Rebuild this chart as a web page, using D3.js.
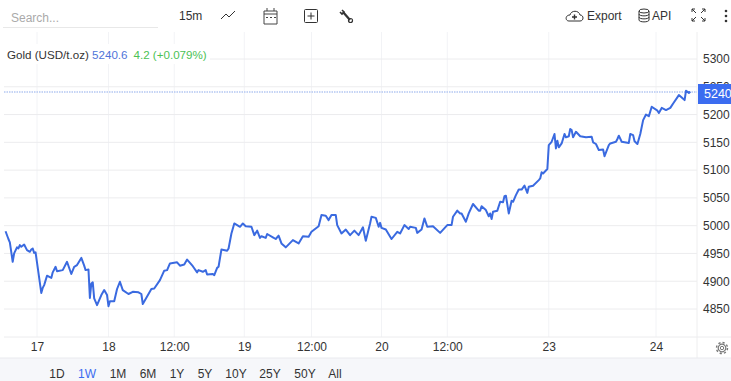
<!DOCTYPE html>
<html>
<head>
<meta charset="utf-8">
<script src="https://cdn.jsdelivr.net/npm/d3@7"></script>
<style>
  html, body { margin: 0; padding: 0; background: #fff; overflow: hidden; }
  text { font-family: "Liberation Sans", Arial, sans-serif; }
  .axis path, .axis line { display: none; }
</style>
</head>
<body>
<div id="chart-area"></div>
<script>
// 15 minute bars, numbered from the first bar of the chart (closed hours left out)
const bars = [0,2,3,5,6,8,9,10,11,13,15,17,18,19,20,21,25,26,27,29,32,33,35,36,40,43,46,48,50,53,55,56,58,59,60,61,62,64,67,69,71,72,73,76,78,80,82,86,89,93,95,96,100,102,104,108,111,113,115,120,122,125,127,131,134,135,138,140,141,145,146,148,149,151,155,156,158,160,164,166,168,172,174,176,178,179,182,183,187,189,191,193,196,201,205,208,212,214,219,221,224,226,228,231,232,235,238,241,244,247,250,252,255,256,259,261,262,263,266,270,274,276,279,282,283,287,288,291,293,295,299,304,309,312,313,316,318,319,322,324,327,331,332,333,336,338,339,340,341,344,346,348,349,350,352,354,355,357,359,361,363,365,366,369,373,374,375,376,379,380,382,384,385,386,387,389,391,392,394,395,396,397,399,402,406,410,411,413,415,418,419,422,423,427,428,429,431,436,437,439,440,442,444,446,448,450,452,456,457,459,462,465,467,471,475,476,478,479];
const prices = [4990,4976,4970,4935,4950,4961,4959,4965,4962,4966,4956,4953,4957,4959,4951,4952,4879,4888,4893,4910,4906,4916,4926,4918,4920,4935,4913,4926,4929,4942,4928,4920,4921,4870,4896,4898,4869,4857,4875,4884,4875,4855,4864,4864,4886,4899,4884,4877,4881,4880,4877,4859,4877,4886,4887,4902,4919,4920,4932,4934,4928,4930,4939,4927,4916,4920,4917,4920,4912,4913,4911,4924,4926,4957,4955,4959,4986,5004,4998,5004,4999,4998,4983,4991,4978,4981,4978,4985,4979,4976,4982,4968,4961,4974,4968,4981,4980,4989,4999,5019,5018,5010,5019,5019,5001,4986,4993,4983,4991,4983,4997,4973,5004,5016,5014,4998,5005,4996,4993,4976,4989,4986,5001,4994,4998,4996,4987,4993,5013,4998,4999,4987,5001,5001,5016,5027,5022,5022,5007,5022,5039,5027,5027,5035,5028,5017,5022,5012,5025,5027,5043,5042,5053,5054,5022,5045,5043,5055,5065,5065,5072,5059,5070,5072,5082,5085,5096,5094,5102,5145,5151,5165,5139,5153,5141,5148,5165,5159,5161,5174,5172,5159,5169,5161,5159,5160,5150,5147,5136,5137,5125,5145,5148,5151,5156,5162,5151,5149,5165,5163,5152,5147,5165,5190,5200,5197,5214,5207,5203,5212,5208,5212,5220,5235,5226,5243,5239,5241];
const tickBars = [22,72,118,167,214,263,309,380,455];
const tickLabels = ["17","18","12:00","19","12:00","20","12:00","23","24"];
const priceTicks = [4850,4900,4950,5000,5050,5100,5150,5200,5300];
const hiddenTick = 5250;
const lastPrice = 5240.6;
const ranges = ["1D","1W","1M","6M","1Y","5Y","10Y","25Y","50Y","All"];
const rangeX = [57,87,118,148,177,205,236,270,305,335];

const width = 731, height = 381;
const plot = { left: 4, right: 697, top: 32, bottom: 337 };

const svg = d3.select("#chart-area")
	.append("svg")
		.attr("width", width)
		.attr("height", height)
		.style("display", "block");

// bar 22 sits under the "17" tick, bar 455 under the "24" tick
const x = d3.scaleLinear().domain([22, 455]).range([37, 656]);
const y = d3.scaleLinear().domain([4850, 5300]).range([309, 59]);

// grid
svg.append("g").selectAll("line").data(tickBars).enter().append("line")
	.attr("x1", d => x(d)).attr("x2", d => x(d))
	.attr("y1", plot.top).attr("y2", plot.bottom)
	.attr("stroke", "#f2f3f6");
svg.append("g").selectAll("line").data(priceTicks.concat(hiddenTick)).enter().append("line")
	.attr("x1", plot.left).attr("x2", plot.right)
	.attr("y1", d => y(d)).attr("y2", d => y(d))
	.attr("stroke", "#ececee");

// frame
svg.append("line").attr("x1", plot.right).attr("x2", plot.right).attr("y1", plot.top).attr("y2", 358).attr("stroke", "#eeeeef");
svg.append("line").attr("x1", plot.left).attr("x2", width).attr("y1", plot.bottom).attr("y2", plot.bottom).attr("stroke", "#ececee");

// bottom band
svg.append("rect").attr("x", 0).attr("y", 358).attr("width", width).attr("height", 23).attr("fill", "#f6f7fa");
svg.append("line").attr("x1", 0).attr("x2", width).attr("y1", 358).attr("y2", 358).attr("stroke", "#e9eaee");

// price line
svg.append("line")
	.attr("x1", plot.left).attr("x2", plot.right)
	.attr("y1", y(lastPrice)).attr("y2", y(lastPrice))
	.attr("stroke", "#b4c8f2").attr("stroke-width", 1.5).attr("stroke-dasharray", "1.5,1");

const line = d3.line().x((d, i) => x(d)).y((d, i) => y(prices[i]));
svg.append("path")
	.attr("d", line(bars))
	.attr("fill", "none")
	.attr("stroke", "#3a6ae0")
	.attr("stroke-width", 2)
	.attr("stroke-linejoin", "round");

// axes
const xAxisCall = d3.axisBottom(x)
	.tickValues(tickBars)
	.tickFormat((d, i) => tickLabels[i])
	.tickSize(0).tickPadding(5);
const xAxisGroup = svg.append("g").attr("class", "x axis")
	.attr("transform", `translate(0,${plot.bottom})`)
	.call(xAxisCall);
xAxisGroup.selectAll("text").attr("font-size", 12).attr("fill", "#333");

const yAxisCall = d3.axisRight(y)
	.tickValues(priceTicks)
	.tickFormat(d3.format("d"))
	.tickSize(0).tickPadding(6);
const yAxisGroup = svg.append("g").attr("class", "y axis")
	.attr("transform", `translate(${plot.right},0)`)
	.call(yAxisCall);
yAxisGroup.selectAll("text").attr("font-size", 12).attr("fill", "#333");

// the 5250 label is mostly behind the last price tag, only its top shows
const clip = svg.append("clipPath").attr("id", "tag-clip");
clip.append("rect").attr("x", plot.right).attr("y", 78).attr("width", 34).attr("height", 6);
svg.append("text")
	.attr("x", 703).attr("y", y(hiddenTick) + 4)
	.attr("font-size", 12).attr("fill", "#333")
	.attr("clip-path", "url(#tag-clip)")
	.text(hiddenTick);

// last price tag
svg.append("rect")
	.attr("x", plot.right + 1).attr("y", y(lastPrice) - 8)
	.attr("width", width - plot.right).attr("height", 20)
	.attr("fill", "#3b6cf0");
svg.append("text")
	.attr("x", 704).attr("y", y(lastPrice) + 6)
	.attr("font-size", 12.5).attr("fill", "#fff")
	.text(Math.floor(lastPrice));

// series label, its box hides the grid behind it
svg.append("rect").attr("x", 0).attr("y", 44).attr("width", 210).attr("height", 20).attr("fill", "#fff");
const legend = svg.append("text").attr("x", 7).attr("y", 59).attr("font-size", 11.6);
legend.append("tspan").attr("fill", "#333").text("Gold (USD/t.oz) ");
legend.append("tspan").attr("fill", "#4f74d9").text(lastPrice);
legend.append("tspan").attr("fill", "#4cc255").attr("dx", 6).text("4.2 (+0.079%)");

// toolbar
svg.append("text").attr("x", 11).attr("y", 22).attr("font-size", 12).attr("fill", "#aaa").text("Search...");
svg.append("line").attr("x1", 3).attr("x2", 158).attr("y1", 27.5).attr("y2", 27.5).attr("stroke", "#e8e8e8");
svg.append("text").attr("x", 179).attr("y", 20).attr("font-size", 12).attr("fill", "#333").text("15m");
svg.append("text").attr("x", 587).attr("y", 20).attr("font-size", 12).attr("fill", "#333").text("Export");
svg.append("text").attr("x", 652).attr("y", 20).attr("font-size", 12).attr("fill", "#333").text("API");

const icons = svg.append("g").attr("fill", "none").attr("stroke", "#333").attr("stroke-width", 1);
icons.append("path").attr("d", "M221 19L226 14L229 17L235 11");
icons.append("path").attr("d", "M264 11H277V24H264ZM264 14H277M267 8V11M274 8V11").attr("stroke", "#444");
icons.append("path").attr("d", "M266 17.5H268M270 17.5H272M274 17.5H276").attr("stroke", "#444");
icons.append("rect").attr("x", 304.5).attr("y", 9.5).attr("width", 13).attr("height", 13).attr("rx", 1);
icons.append("path").attr("d", "M311 12.5V19.5M307.5 16H314.5");
// wrench
icons.append("path").attr("d", "M343 12L350 20").attr("stroke-width", 2.2);
icons.append("path").attr("d", "M340 12L342 14L344 12L342 10").attr("stroke-width", 1.6);
icons.append("circle").attr("cx", 350.5).attr("cy", 20.5).attr("r", 2).attr("stroke-width", 1.2);
icons.append("path").attr("d", "M569 21C565 21 565 15 570 15C571 10 579 10 580 15C584 15 584 21 580 21Z");
icons.append("path").attr("d", "M574.5 14.5V19.5M572 17H577").attr("stroke-width", 1.4);
icons.append("ellipse").attr("cx", 644).attr("cy", 11).attr("rx", 5).attr("ry", 2);
icons.append("path").attr("d", "M639 11V20C639 22.5 649 22.5 649 20V11M639 14C639 16.5 649 16.5 649 14M639 17C639 19.5 649 19.5 649 17");
icons.append("path").attr("d", "M692 12V9H695M692 9L696 13M705 12V9H702M705 9L701 13M692 18V21H695M692 21L696 17M705 18V21H702M705 21L701 17");
svg.append("g").selectAll("circle").data([11, 16, 21]).enter().append("circle")
	.attr("cx", 726).attr("cy", d => d).attr("r", 1.3).attr("fill", "#333");

// gear
const gear = svg.append("g").attr("transform", "translate(722,348)");
gear.append("circle").attr("r", 3.8).attr("fill", "none").attr("stroke", "#777").attr("stroke-width", 1.2);
gear.append("circle").attr("r", 5.5).attr("fill", "none").attr("stroke", "#777").attr("stroke-width", 1.4).attr("stroke-dasharray", "2.2,2.1");
gear.append("circle").attr("r", 1.7).attr("fill", "#fff").attr("stroke", "#777");

// range buttons
svg.append("g").selectAll("text").data(ranges).enter().append("text")
	.attr("x", (d, i) => rangeX[i])
	.attr("y", 378)
	.attr("text-anchor", "middle")
	.attr("font-size", 12)
	.attr("fill", d => d === "1W" ? "#3b6cf0" : "#333")
	.text(d => d);
</script>
</body>
</html>
